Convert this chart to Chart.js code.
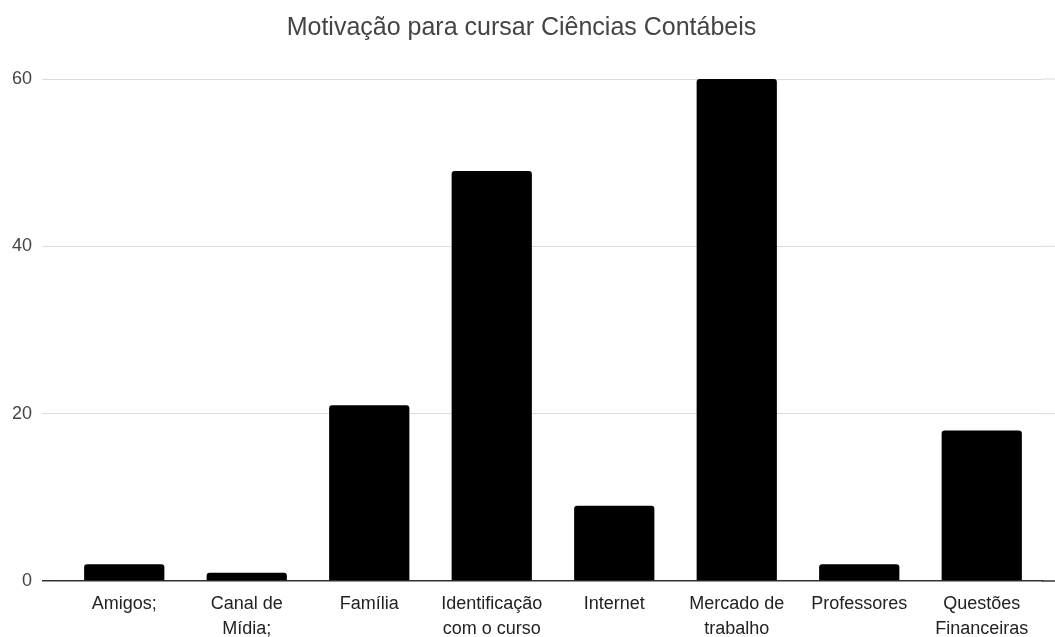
<!DOCTYPE html>
<html>
<head>
<meta charset="utf-8">
<script src="https://cdn.jsdelivr.net/npm/chart.js@4/dist/chart.umd.min.js"></script>
<style>
  html, body { margin: 0; padding: 0; background: #fff; }
  #box { width: 1055px; height: 637px; }
</style>
</head>
<body>
<div id="box"><canvas id="grafico" width="1055" height="637"></canvas></div>
<script>
// Motivos citados
const categorias = [
    'Amigos;',
    ['Canal de', 'Mídia;'],
    'Família',
    ['Identificação', 'com o curso'],
    'Internet',
    ['Mercado de', 'trabalho'],
    'Professores',
    ['Questões', 'Financeiras']
];
const respostas = [2, 1, 21, 49, 9, 60, 2, 18];
const ticksY = [0, 20, 40, 60];

const fonte = "'Liberation Sans', Arial, sans-serif";
const corGrade = '#dcdcdc';
const corZero = '#333333';

const corLinha = (v) => v === 0 ? corZero : corGrade;

// prolonga as linhas da grade ate a borda direita
const gradeDireita = {
    id: 'gradeDireita',
    beforeDatasetsDraw: (chart) => {
        const ctx = chart.ctx;
        const y = chart.scales.y;
        ctx.save();
        y.ticks.forEach((t) => {
            const py = y.getPixelForValue(t.value);
            ctx.strokeStyle = corLinha(t.value);
            ctx.lineWidth = t.value === 0 ? 1.5 : 1;
            ctx.beginPath();
            ctx.moveTo(chart.chartArea.right - 1, py);
            ctx.lineTo(chart.width, py);
            ctx.stroke();
        });
        ctx.restore();
    }
};

const config = {
    type: 'bar',
    data: {
        labels: categorias,
        datasets: [{
            label: 'Respostas',
            data: respostas,
            backgroundColor: '#000000',
            borderRadius: 3,
            barPercentage: 0.655,
            categoryPercentage: 1
        }]
    },
    options: {
        responsive: false,
        animation: false,
        layout: { padding: { left: 0, right: 12, top: 0, bottom: 0 } },
        plugins: {
            legend: { display: false },
            tooltip: { enabled: false },
            title: {
                display: true,
                text: 'Motivação para cursar Ciências Contábeis',
                color: '#444444',
                font: { family: fonte, size: 25, weight: 'normal', lineHeight: 1.2 },
                padding: { top: 13, bottom: 36 }
            }
        },
        scales: {
            x: {
                grid: { display: false },
                border: { display: false },
                afterFit: (scale) => { scale.height = 56; },
                ticks: {
                    color: '#222222',
                    font: { family: fonte, size: 18, lineHeight: 1.39 },
                    padding: 3,
                    maxRotation: 0,
                    autoSkip: false
                }
            },
            y: {
                min: 0,
                max: 60,
                afterBuildTicks: (scale) => {
                    scale.ticks = ticksY.map((v) => ({ value: v }));
                },
                afterFit: (scale) => { scale.width = 63; },
                border: { display: false },
                grid: {
                    color: (c) => corLinha(c.tick.value),
                    lineWidth: (c) => c.tick.value === 0 ? 1.5 : 1,
                    tickLength: 21
                },
                ticks: {
                    color: '#444444',
                    font: { family: fonte, size: 18 },
                    padding: 10
                }
            }
        }
    },
    plugins: [gradeDireita]
};

new Chart(document.getElementById('grafico'), config);
</script>
</body>
</html>
